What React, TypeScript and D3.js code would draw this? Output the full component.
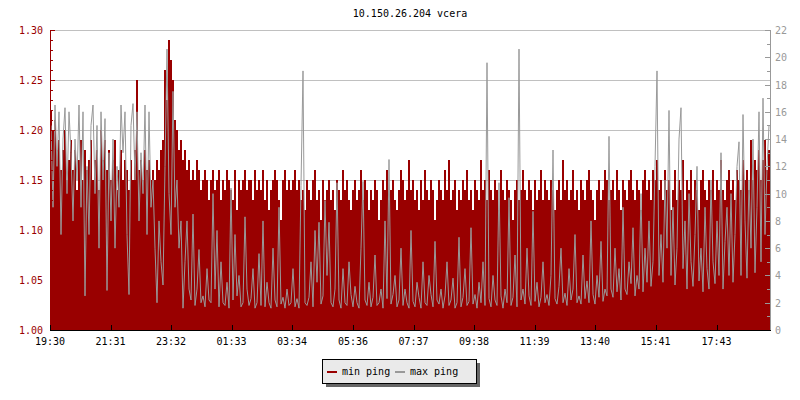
import React, { useEffect, useRef } from 'react';
import * as d3 from 'd3';

// chart data: one sample every 4 minutes from 19:30
const stepMinutes = 4;

const minPing: number[] = [
  1.22, 1.20, 1.21, 1.18, 1.19, 1.16, 1.18, 1.20, 1.15, 1.17, 1.19, 1.16, 1.18, 1.14, 1.17, 1.19, 1.15, 1.18, 1.16, 1.17,
  1.19, 1.15, 1.17, 1.18, 1.14, 1.20, 1.17, 1.19, 1.16, 1.18, 1.15, 1.17, 1.19, 1.14, 1.16, 1.18, 1.15, 1.17, 1.16, 1.14,
  1.17, 1.15, 1.18, 1.25, 1.16, 1.17, 1.15, 1.18, 1.16, 1.17, 1.15, 1.16, 1.15, 1.17, 1.16, 1.18, 1.19, 1.26, 1.23, 1.29,
  1.27, 1.25, 1.21, 1.20, 1.18, 1.19, 1.17, 1.18, 1.16, 1.17, 1.15, 1.16, 1.15, 1.17, 1.16, 1.14, 1.15, 1.16, 1.15, 1.13,
  1.15, 1.16, 1.14, 1.15, 1.16, 1.13, 1.15, 1.14, 1.16, 1.15, 1.14, 1.13, 1.16, 1.12, 1.15, 1.14, 1.15, 1.16, 1.14, 1.15,
  1.15, 1.13, 1.16, 1.14, 1.15, 1.14, 1.16, 1.13, 1.15, 1.12, 1.14, 1.15, 1.16, 1.15, 1.13, 1.11, 1.15, 1.16, 1.14, 1.15,
  1.14, 1.15, 1.16, 1.14, 1.15, 1.13, 1.14, 1.12, 1.15, 1.14, 1.13, 1.15, 1.16, 1.13, 1.14, 1.11, 1.15, 1.13, 1.14, 1.15,
  1.13, 1.14, 1.12, 1.15, 1.14, 1.13, 1.16, 1.14, 1.15, 1.13, 1.12, 1.14, 1.15, 1.13, 1.14, 1.16, 1.13, 1.15, 1.14, 1.12,
  1.14, 1.13, 1.15, 1.14, 1.11, 1.13, 1.15, 1.14, 1.16, 1.13, 1.14, 1.15, 1.13, 1.12, 1.14, 1.16, 1.15, 1.13, 1.14, 1.17,
  1.14, 1.15, 1.13, 1.14, 1.12, 1.15, 1.13, 1.16, 1.14, 1.13, 1.15, 1.14, 1.11, 1.13, 1.15, 1.14, 1.13, 1.16, 1.14, 1.17,
  1.13, 1.14, 1.15, 1.12, 1.14, 1.13, 1.15, 1.14, 1.16, 1.13, 1.14, 1.12, 1.15, 1.14, 1.13, 1.17, 1.14, 1.15, 1.13, 1.16,
  1.14, 1.13, 1.15, 1.14, 1.12, 1.16, 1.14, 1.13, 1.15, 1.14, 1.13, 1.11, 1.14, 1.15, 1.13, 1.14, 1.16, 1.14, 1.13, 1.15,
  1.14, 1.12, 1.15, 1.13, 1.14, 1.16, 1.13, 1.15, 1.14, 1.13, 1.15, 1.14, 1.12, 1.14, 1.15, 1.13, 1.17, 1.14, 1.15, 1.13,
  1.14, 1.16, 1.13, 1.14, 1.12, 1.15, 1.14, 1.13, 1.15, 1.16, 1.14, 1.13, 1.11, 1.14, 1.15, 1.13, 1.14, 1.16, 1.15, 1.13,
  1.14, 1.15, 1.13, 1.16, 1.14, 1.12, 1.15, 1.14, 1.13, 1.15, 1.16, 1.14, 1.13, 1.15, 1.14, 1.12, 1.15, 1.16, 1.14, 1.15,
  1.13, 1.16, 1.15, 1.17, 1.14, 1.15, 1.13, 1.16, 1.14, 1.15, 1.12, 1.14, 1.16, 1.13, 1.15, 1.14, 1.17, 1.13, 1.15, 1.14,
  1.16, 1.13, 1.15, 1.14, 1.12, 1.15, 1.16, 1.14, 1.13, 1.15, 1.14, 1.16, 1.13, 1.15, 1.14, 1.17, 1.14, 1.13, 1.15, 1.16,
  1.14, 1.15, 1.13, 1.16, 1.15, 1.14, 1.17, 1.15, 1.16, 1.14, 1.19, 1.15, 1.17, 1.16, 1.18, 1.15, 1.17, 1.19, 1.16, 1.18,
];

const maxPing: number[] = [
  15, 9, 16.5, 12, 16, 7, 14, 16.3, 10, 16, 13, 8, 14, 11, 16.5, 9, 16, 2.5, 12, 7,
  15, 16.5, 10, 15, 6, 16, 11, 15.5, 2.9, 13, 8, 14, 6, 12, 9, 16.5, 13, 16, 7, 2.6,
  15, 16.6, 11, 16, 8, 13, 10, 16.5, 7, 16, 9, 11, 6, 2, 8, 5, 3.3, 12, 20.6, 10,
  7, 17.5, 9, 11, 6, 8, 1.6, 5, 8, 3, 2.2, 8.5, 1.8, 3, 5.9, 2, 2.5, 1.7, 4.5, 2.2,
  2, 10, 3, 7.3, 1.7, 5, 2, 1.8, 3.5, 1.6, 10.4, 2.2, 7, 2.5, 4, 1.7, 2, 8.3, 3, 1.8,
  2.3, 4.5, 1.6, 2, 5.6, 1.8, 8, 1.7, 3.5, 2, 1.6, 6, 2.2, 1.7, 9, 1.9, 2.4, 1.6, 3, 1.8,
  2, 4.5, 1.7, 2.3, 1.6, 10.6, 19, 2, 1.8, 2.4, 5, 1.7, 7.3, 3.5, 7.9, 1.9, 2.5, 9.5, 4, 7.9,
  2, 1.7, 3, 10.8, 2.2, 1.6, 4.5, 2, 1.8, 5, 2.6, 1.7, 3.2, 2, 1.6, 6, 10.9, 2.2, 1.8, 3.5,
  1.7, 2.4, 5.5, 1.8, 2, 3, 1.6, 8, 2.3, 12.5, 1.9, 2.6, 4, 1.7, 2.2, 6, 1.8, 3, 2, 1.6,
  7.3, 2.1, 1.7, 3.5, 2.4, 1.6, 5, 2, 1.8, 4, 2.6, 1.7, 6.5, 2.2, 1.9, 3, 1.6, 2.5, 5, 1.8,
  2.2, 3.8, 1.6, 2, 6.8, 1.7, 2.4, 4.5, 1.8, 2.1, 7.5, 1.9, 2.6, 1.6, 3.5, 2, 5, 1.8, 19.6, 2.3,
  1.7, 4, 2.2, 1.8, 10.8, 2.5, 1.6, 3, 2, 9.7, 1.8, 2.4, 5.5, 1.7, 20.6, 2.2, 3, 1.9, 6, 2.5,
  1.8, 8.7, 2.1, 3.5, 1.7, 2.4, 5, 2, 2.6, 1.8, 4, 13.2, 2.3, 1.9, 3.2, 6, 2, 2.7, 1.8, 4.5,
  2.2, 3, 7, 2, 2.5, 1.9, 5.5, 2.3, 3.6, 2, 8, 2.6, 1.9, 4, 2.4, 6.5, 2.1, 3, 2.5, 14.2,
  3, 2.4, 6, 2.8, 4.5, 2.2, 9, 3, 2.6, 5, 3.4, 7.5, 2.5, 4, 3, 10, 2.8, 6, 3.5, 8,
  3.2, 5, 12, 19, 4, 7, 3.5, 11, 6, 16.1, 4, 9, 3.3, 6, 14, 16.3, 4.5, 8, 3, 10,
  5, 3.2, 7, 12, 3.6, 6, 2.8, 9, 4.5, 3, 11, 5, 3.4, 8, 4, 13, 3, 6.5, 9, 4,
  10, 3.5, 7, 12, 13.8, 4, 15.8, 8, 3.8, 11, 6, 14, 4.2, 9, 16, 5, 17, 7, 12, 15,
];

const tickMinutes = [0, 121, 242, 363, 484, 606, 727, 848, 969, 1090, 1211, 1333];
const tickLabels = ['19:30', '21:31', '23:32', '01:33', '03:34', '05:36', '07:37', '09:38', '11:39', '13:40', '15:41', '17:43'];

const title = '10.150.26.204 vcera';
const seriesNames = ['min ping', 'max ping'];
const seriesColors = ['#990000', '#999999'];

const W = 800;
const H = 400;
const FONT = '"DejaVu Sans Mono", monospace';

export default function App() {
  const ref = useRef<SVGSVGElement>(null);

  useEffect(() => {
    if (!ref.current) return;
    const svg = d3.select(ref.current);
    svg.selectAll('*').remove();

    const left = 50, right = 770, top = 30, bottom = 330;

    const x = d3.scaleLinear().domain([0, 1440]).range([left, right]);
    const yL = d3.scaleLinear().domain([1.0, 1.3]).range([bottom, top]);
    const yR = d3.scaleLinear().domain([0, 22]).range([bottom, top]);

    svg.append('rect').attr('width', W).attr('height', H).attr('fill', '#fff');

    // horizontal grid
    const gridVals = d3.range(0, 7).map(k => 1.0 + k * 0.05);
    svg.append('g')
      .selectAll('line')
      .data(gridVals)
      .join('line')
      .attr('x1', left).attr('x2', right)
      .attr('y1', d => Math.round(yL(d)) + 0.5)
      .attr('y2', d => Math.round(yL(d)) + 0.5)
      .attr('stroke', '#c0c0c0')
      .attr('stroke-width', 1);

    // min ping as filled steps
    const minData = [...minPing, minPing[minPing.length - 1]];
    const area = d3.area<number>()
      .x((_, i) => x(i * stepMinutes))
      .y0(yL(1.0))
      .y1(d => yL(d))
      .curve(d3.curveStepAfter);
    svg.append('path')
      .attr('d', area(minData) as string)
      .attr('fill', seriesColors[0])
      .attr('shape-rendering', 'crispEdges');

    // max ping as a line on the right scale
    const line = d3.line<number>()
      .x((_, i) => x(i * stepMinutes + stepMinutes / 2))
      .y(d => yR(d));
    svg.append('path')
      .attr('d', line(maxPing) as string)
      .attr('fill', 'none')
      .attr('stroke', seriesColors[1])
      .attr('stroke-width', 1);

    // left axis
    const la = svg.append('g').attr('shape-rendering', 'crispEdges');
    la.append('line')
      .attr('x1', left + 0.5).attr('x2', left + 0.5)
      .attr('y1', top).attr('y2', bottom)
      .attr('stroke', seriesColors[0]);
    la.selectAll('line.t')
      .data(d3.range(0, 31))
      .join('line')
      .attr('class', 't')
      .attr('x1', left)
      .attr('x2', k => left + (k % 5 === 0 ? 5 : 3))
      .attr('y1', k => Math.round(yL(1.0 + k * 0.01)) + 0.5)
      .attr('y2', k => Math.round(yL(1.0 + k * 0.01)) + 0.5)
      .attr('stroke', seriesColors[0]);
    la.selectAll('text')
      .data(gridVals)
      .join('text')
      .attr('x', 43)
      .attr('y', d => yL(d) + 4)
      .attr('text-anchor', 'end')
      .attr('font-family', FONT)
      .attr('font-size', 10)
      .attr('fill', seriesColors[0])
      .text(d => d.toFixed(2));

    // right axis
    const ra = svg.append('g').attr('shape-rendering', 'crispEdges');
    ra.append('line')
      .attr('x1', right + 0.5).attr('x2', right + 0.5)
      .attr('y1', top).attr('y2', bottom + 1)
      .attr('stroke', seriesColors[1]);
    ra.selectAll('line.t')
      .data(d3.range(0, 23))
      .join('line')
      .attr('class', 't')
      .attr('x1', right)
      .attr('x2', k => right - (k % 2 === 0 ? 5 : 3))
      .attr('y1', k => Math.round(yR(k)) + 0.5)
      .attr('y2', k => Math.round(yR(k)) + 0.5)
      .attr('stroke', seriesColors[1]);
    ra.selectAll('text')
      .data(d3.range(0, 23, 2))
      .join('text')
      .attr('x', 775)
      .attr('y', d => yR(d) + 4)
      .attr('font-family', FONT)
      .attr('font-size', 10)
      .attr('fill', seriesColors[1])
      .text(d => String(d));

    // bottom axis
    const ba = svg.append('g').attr('shape-rendering', 'crispEdges');
    ba.append('line')
      .attr('x1', left).attr('x2', right + 1)
      .attr('y1', bottom + 0.5).attr('y2', bottom + 0.5)
      .attr('stroke', '#000');
    ba.selectAll('line.t')
      .data(tickMinutes)
      .join('line')
      .attr('class', 't')
      .attr('x1', d => Math.round(x(d)) + 0.5)
      .attr('x2', d => Math.round(x(d)) + 0.5)
      .attr('y1', bottom)
      .attr('y2', bottom - 5)
      .attr('stroke', '#000');
    ba.selectAll('text')
      .data(tickMinutes)
      .join('text')
      .attr('x', d => x(d))
      .attr('y', 345)
      .attr('text-anchor', 'middle')
      .attr('font-family', FONT)
      .attr('font-size', 10)
      .attr('fill', '#000')
      .text((_, i) => tickLabels[i]);

    // title
    svg.append('text')
      .attr('x', (left + right) / 2)
      .attr('y', 17)
      .attr('text-anchor', 'middle')
      .attr('font-family', FONT)
      .attr('font-size', 10)
      .attr('fill', '#000')
      .text(title);

    // legend
    const lg = svg.append('g').attr('shape-rendering', 'crispEdges');
    lg.append('rect').attr('x', 326).attr('y', 363).attr('width', 154).attr('height', 24).attr('fill', '#666');
    lg.append('rect').attr('x', 322.5).attr('y', 359.5).attr('width', 154).attr('height', 24)
      .attr('fill', '#eaeaea').attr('stroke', '#000');
    const items = [{ lx: 327, tx: 342 }, { lx: 395, tx: 410 }];
    items.forEach((it, i) => {
      lg.append('line')
        .attr('x1', it.lx).attr('x2', it.lx + 10)
        .attr('y1', 372).attr('y2', 372)
        .attr('stroke', seriesColors[i]).attr('stroke-width', 2);
      lg.append('text')
        .attr('x', it.tx).attr('y', 375)
        .attr('font-family', FONT)
        .attr('font-size', 10)
        .attr('fill', '#000')
        .text(seriesNames[i]);
    });
  }, []);

  return (
    <div style={{ position: 'absolute', left: 0, top: 0 }}>
      <svg ref={ref} width={W} height={H} style={{ display: 'block' }} />
    </div>
  );
}
